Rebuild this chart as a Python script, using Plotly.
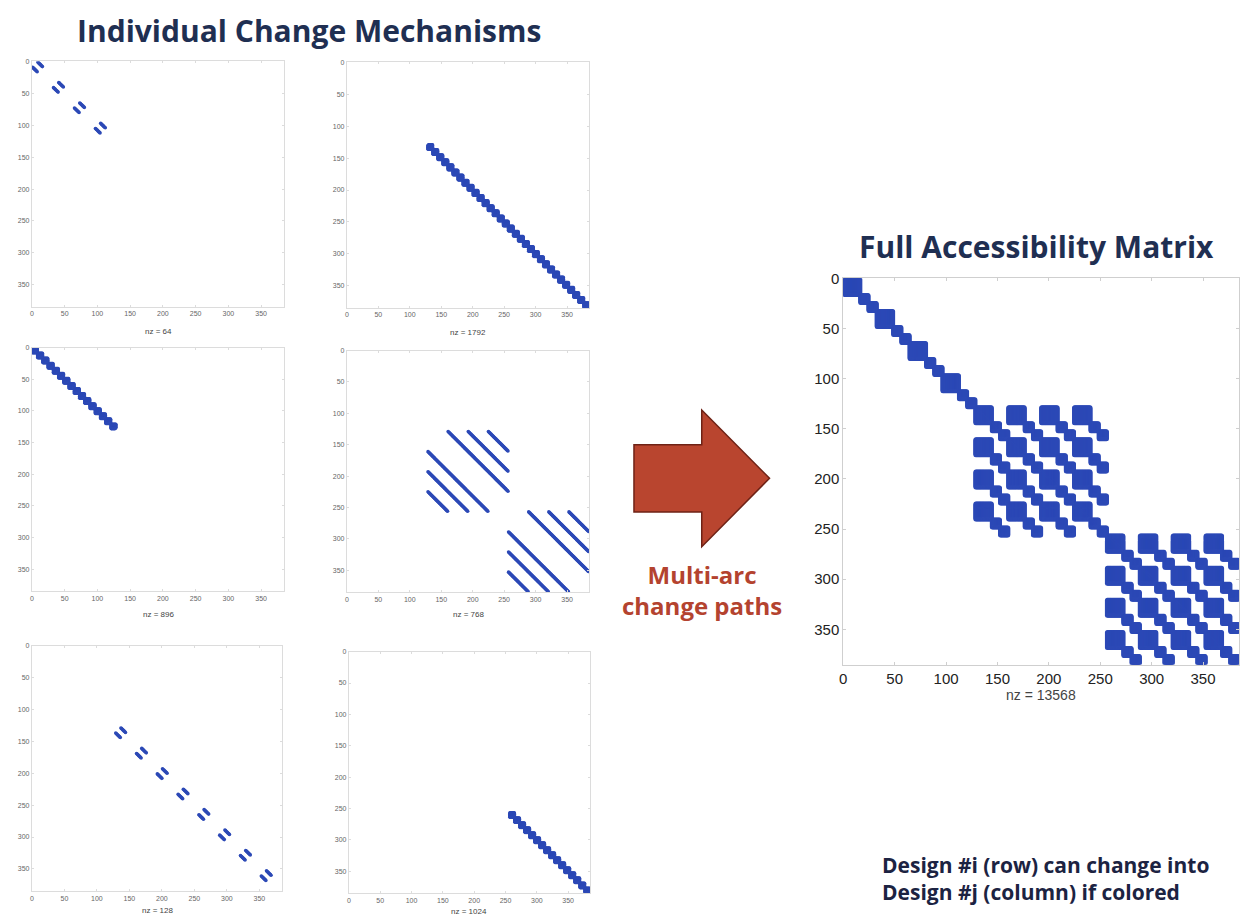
import numpy as np
import plotly.graph_objects as go

W, H = 1243, 917

# ---------------------------------------------------------------- data
N_DESIGNS = 384
TICKS = [0, 50, 100, 150, 200, 250, 300, 350]

# pairwise swap mechanisms: groups of 2 x 8 designs that exchange
SWAP_STARTS_LOW = [0, 32, 64, 96]
SWAP_STARTS_HIGH = [128, 160, 192, 224, 256, 288, 320, 352]
SWAP_HALF = 8

# cluster mechanisms: 8-design families (start, end, includes self-change)
CLUSTER_SIZE = 8
CLUSTER_A = (128, 384, False)
CLUSTER_B = (0, 128, False)
CLUSTER_C = (256, 384, True)

# shift mechanism inside 128-design blocks, in steps of 32
SHIFT_BLOCKS = [128, 256]
SHIFT_BLOCK_SIZE = 128
SHIFT_STEP = 32

# designs that can also "change" into themselves in the full matrix
SELF_LOOP_END = 128

PANEL_NZ = [64, 1792, 896, 768, 128, 1024]
FULL_NZ = 13568


def swap_matrix(starts):
    m = np.zeros((N_DESIGNS, N_DESIGNS), dtype=bool)
    for b in starts:
        for i in range(SWAP_HALF):
            m[b + i, b + SWAP_HALF + i] = True
            m[b + SWAP_HALF + i, b + i] = True
    return m


def cluster_matrix(spec):
    lo, hi, self_loops = spec
    m = np.zeros((N_DESIGNS, N_DESIGNS), dtype=bool)
    for b in range(lo, hi, CLUSTER_SIZE):
        m[b:b + CLUSTER_SIZE, b:b + CLUSTER_SIZE] = True
    if not self_loops:
        idx = np.arange(lo, hi)
        m[idx, idx] = False
    return m


def shift_matrix():
    m = np.zeros((N_DESIGNS, N_DESIGNS), dtype=bool)
    for b in SHIFT_BLOCKS:
        for i in range(SHIFT_BLOCK_SIZE):
            for j in range(SHIFT_BLOCK_SIZE):
                if i != j and (i - j) % SHIFT_STEP == 0:
                    m[b + i, b + j] = True
    return m


mechanisms = [
    swap_matrix(SWAP_STARTS_LOW),
    cluster_matrix(CLUSTER_A),
    cluster_matrix(CLUSTER_B),
    shift_matrix(),
    swap_matrix(SWAP_STARTS_HIGH),
    cluster_matrix(CLUSTER_C),
]

# multi-arc change paths: transitive closure of all mechanisms
reach = np.zeros((N_DESIGNS, N_DESIGNS), dtype=bool)
for m in mechanisms:
    reach |= m
while True:
    r = reach.astype(np.int32)
    nxt = reach | ((r @ r) > 0)
    if (nxt == reach).all():
        break
    reach = nxt
tail = np.arange(SELF_LOOP_END, N_DESIGNS)
reach[tail, tail] = False

# ---------------------------------------------------------------- layout helpers
def fx(px):
    return px / W


def fy(py):
    return 1 - py / H


# plot areas in pixels: (left, right, top, bottom), plus offset of the nz label
SMALL_BOXES = [
    (28, 281, 53, 301),
    (344, 587, 54, 302),
    (28, 281, 342, 588),
    (344, 587, 345, 589),
    (28, 279, 643, 891),
    (346, 588, 649, 893),
]
SMALL_NZ_GAP = [25, 25, 23, 22, 19, 18]
FULL_BOX = (842, 1239, 272, 662)

BLUE = "#2C49B6"
NAVY = "#1F2F52"

fig = go.Figure()
layout = dict(
    width=W, height=H, margin=dict(l=0, r=0, t=0, b=0),
    paper_bgcolor="white", plot_bgcolor="white", showlegend=False,
    annotations=[], shapes=[],
)


def add_spy(k, mat, box, msize, tick_size, tick_color, line_color, ticklen, nz, nz_size, nz_gap):
    rows, cols = np.nonzero(mat)
    sfx = "" if k == 1 else str(k)
    fig.add_trace(go.Scatter(
        x=cols + 1, y=rows + 1, mode="markers",
        marker=dict(size=msize, color=BLUE, line=dict(width=0)),
        xaxis="x" + sfx, yaxis="y" + sfx, hoverinfo="skip",
    ))
    l, r, t, b = box
    common = dict(
        showgrid=False, zeroline=False, showline=True, linecolor=line_color, linewidth=1,
        mirror="ticks", ticks="inside", ticklen=ticklen, tickcolor=line_color,
        tickvals=TICKS, tickfont=dict(family="Liberation Sans, Arial", size=tick_size, color=tick_color),
        fixedrange=True,
    )
    layout["xaxis" + sfx] = dict(common, domain=[fx(l), fx(r)], range=[0, N_DESIGNS + 1],
                                 anchor="y" + sfx)
    layout["yaxis" + sfx] = dict(common, domain=[fy(b), fy(t)], range=[N_DESIGNS + 1, 0],
                                 anchor="x" + sfx)
    layout["annotations"].append(dict(
        text=f"nz = {nz}", xref="paper", yref="paper", x=fx((l + r) / 2), y=fy(b + nz_gap),
        showarrow=False, xanchor="center", yanchor="middle",
        font=dict(family="Liberation Sans, Arial", size=nz_size, color="#444"),
    ))


for k, (mat, box, nz, gap) in enumerate(zip(mechanisms, SMALL_BOXES, PANEL_NZ, SMALL_NZ_GAP), start=1):
    add_spy(k, mat, box, 3.6, 7, "#666", "#dcdcdc", 2, nz, 8, gap)

add_spy(7, reach, FULL_BOX, 5, 15, "#222", "#cfcfcf", 3, FULL_NZ, 14, 31)

# ---------------------------------------------------------------- titles and notes
TITLE_FONT = "Open Sans, Lato, sans-serif"
layout["annotations"] += [
    dict(text="<b>Individual Change Mechanisms</b>", x=fx(306), y=fy(22),
         font=dict(family=TITLE_FONT, size=30, color=NAVY)),
    dict(text="<b>Full Accessibility Matrix</b>", x=fx(1036), y=fy(240),
         font=dict(family=TITLE_FONT, size=30, color=NAVY)),
    dict(text="<b>Multi-arc<br>change paths</b>", x=fx(700), y=fy(587),
         font=dict(family=TITLE_FONT, size=24, color="#B4432F")),
    dict(text="<b>Design #i (row) can change into<br>Design #j (column) if colored</b>",
         x=fx(879), y=fy(878), xanchor="left", align="left",
         font=dict(family=TITLE_FONT, size=21, color="#1C2342")),
]
for a in layout["annotations"][-4:]:
    a.update(xref="paper", yref="paper", showarrow=False, yanchor="middle")
    a.setdefault("xanchor", "center")

# block arrow between the two sides
ARROW_PX = [(632, 440), (700, 440), (700, 405), (768, 474), (700, 543), (700, 508), (632, 508)]
path = "M " + " L ".join(f"{fx(x):.5f},{fy(y):.5f}" for x, y in ARROW_PX) + " Z"
layout["shapes"].append(dict(type="path", xref="paper", yref="paper", path=path,
                             fillcolor="#B9452F", line=dict(color="#6E2216", width=1.5)))

fig.update_layout(**layout)
fig.write_html("out.html")
